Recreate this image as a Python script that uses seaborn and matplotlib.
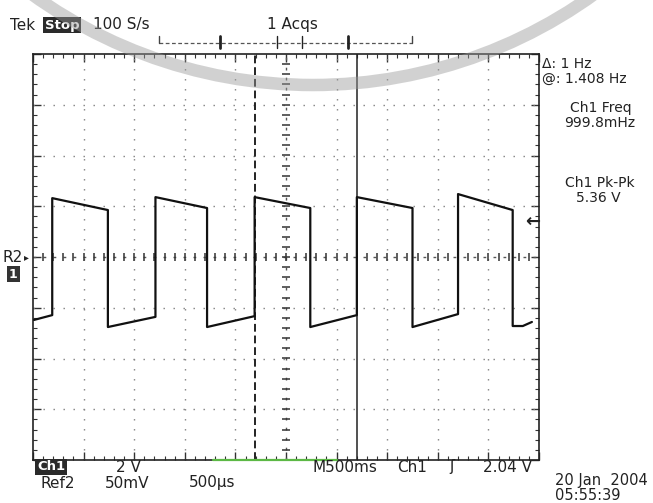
import numpy as np
import matplotlib
matplotlib.use("Agg")
import matplotlib.pyplot as plt
from matplotlib.patches import Arc
from matplotlib.ticker import MultipleLocator
import matplotlib.transforms as mtransforms
import pandas as pd
import seaborn as sns

# Ch1 trace, corners (time from left edge in s, level in V)
t_s = [0.01, 0.19, 0.19, 0.74, 0.74, 1.21, 1.21, 1.72, 1.72, 2.19, 2.19,
       2.74, 2.74, 3.20, 3.20, 3.75, 3.75, 4.20, 4.20, 4.74, 4.74, 4.84, 4.93]
v_ch1 = [-2.48, -2.29, 2.32, 1.85, -2.76, -2.36, 2.36, 1.93, -2.76, -2.33, 2.36,
         1.93, -2.76, -2.29, 2.36, 1.93, -2.76, -2.25, 2.48, 1.85, -2.72, -2.72, -2.56]

# cursors / markers (s)
cursor_dashed = 2.19
cursor_solid = 3.20
record_marks = [1.85, 2.41, 2.66, 3.11]

# readouts
top_labels = ["Tek", "100 S/s", "1 Acqs"]
side_labels = ["Δ: 1 Hz", "@: 1.408 Hz", "Ch1 Freq", "999.8mHz", "Ch1 Pk-Pk", "5.36 V"]
bottom_labels = ["2 V", "Ref2", "50mV", "500µs", "M500ms", "Ch1", "ʃ", "2.04 V"]
date_labels = ["20 Jan  2004", "05:55:39"]

df = pd.DataFrame({"t": t_s, "v": v_ch1})

sns.set_theme(style="white")
plt.rcParams["font.family"] = ["DejaVu Sans"]

W, H = 653, 503
fig = plt.figure(figsize=(W / 100, H / 100), dpi=100)
fig.patch.set_facecolor("white")


def fx(x):
    return x / W


def fy(y):
    return 1 - y / H


ax = fig.add_axes([fx(33), fy(460), 506 / W, 406 / H])
ax.set_facecolor("white")
ax.set_xlim(0, 5)
ax.set_ylim(-8, 8)

# graticule
grid_c = "#808080"
for x in np.arange(0.5, 5.0, 0.5):
    if abs(x - 2.5) > 1e-6:
        ax.axvline(x, color=grid_c, lw=1, dashes=(1, 6.2), zorder=1)
for y in np.arange(-6, 8, 2):
    if y != 0:
        ax.axhline(y, color=grid_c, lw=1, dashes=(1, 6.2), zorder=1)
ax.axhline(0, color="#555555", lw=1, dashes=(2, 5.2), zorder=1)
ax.axvline(2.5, color="#555555", lw=1, dashes=(2, 5.2), zorder=1)
tx = np.arange(0.1, 5.0, 0.1)
ax.plot(tx, np.zeros_like(tx), ls="none", marker="|", ms=6, mew=1.1, color="#333333", zorder=2)
ty = np.arange(-7.6, 8, 0.4)
ax.plot(np.full_like(ty, 2.5), ty, ls="none", marker="_", ms=6, mew=1.1, color="#333333", zorder=2)

for s in ax.spines.values():
    s.set_color("#222222")
    s.set_linewidth(1.2)
ax.xaxis.set_major_locator(MultipleLocator(0.5))
ax.yaxis.set_major_locator(MultipleLocator(2))
ax.xaxis.set_minor_locator(MultipleLocator(0.1))
ax.yaxis.set_minor_locator(MultipleLocator(0.4))
ax.tick_params(which="both", direction="in", top=True, right=True, bottom=True, left=True,
               labelbottom=False, labelleft=False, color="#333333")
ax.tick_params(which="major", length=6, width=1)
ax.tick_params(which="minor", length=3, width=0.8)

# cursors
ax.axvline(cursor_dashed, color="#222222", lw=1.4, dashes=(4, 2), zorder=3)
ax.axvline(cursor_solid, color="#222222", lw=1.1, zorder=3)

# trace
sns.lineplot(data=df, x="t", y="v", sort=False, estimator=None, color="#111111",
             lw=1.6, ax=ax, zorder=4)
ax.set_xlabel("")
ax.set_ylabel("")

# green strip on bottom edge
ax.plot([1.78, 3.00], [-8, -8], color="#5cb845", lw=1.6, clip_on=False, zorder=5)

# trigger level arrow
ax.text(4.94, 1.38, "←", ha="center", va="center", fontsize=13, color="#222222",
        fontweight="bold")

# record view bar above the screen
bt = mtransforms.blended_transform_factory(ax.transData, ax.transAxes)
ybar = (460 - 43) / 406
ax.plot([1.245, 3.745], [ybar, ybar], color="#555555", lw=0.9, dashes=(3, 2),
        transform=bt, clip_on=False)
for xm in [1.245, 3.745]:
    ax.plot([xm, xm], [ybar, ybar + 0.018], color="#444444", lw=1, transform=bt, clip_on=False)
for i, xm in enumerate(record_marks):
    ax.plot([xm, xm], [ybar - 0.012, ybar + 0.018], color="#222222",
            lw=2 if i in (0, 3) else 1, transform=bt, clip_on=False)

# screen readouts
fs = 11
fs2 = 10
tc = "#222222"
fig.text(fx(10), fy(25), top_labels[0], fontsize=fs, color=tc, va="center")
fig.text(fx(45), fy(25), "Stop", fontsize=9.5, color="white", va="center", fontweight="bold",
         bbox=dict(boxstyle="square,pad=0.12", fc="#2a2a2a", ec="none"))
fig.text(fx(93), fy(25), top_labels[1], fontsize=fs, color=tc, va="center")
fig.text(fx(267), fy(25), top_labels[2], fontsize=fs, color=tc, va="center")

fig.text(fx(542), fy(64), side_labels[0], fontsize=fs2, color=tc, va="center")
fig.text(fx(542), fy(79), side_labels[1], fontsize=fs2, color=tc, va="center")
fig.text(fx(601), fy(108), side_labels[2], fontsize=fs2, color=tc, va="center", ha="center")
fig.text(fx(600), fy(123), side_labels[3], fontsize=fs2, color=tc, va="center", ha="center")
fig.text(fx(600), fy(183), side_labels[4], fontsize=fs2, color=tc, va="center", ha="center")
fig.text(fx(598), fy(198), side_labels[5], fontsize=fs2, color=tc, va="center", ha="center")

fig.text(fx(2), fy(257), "R2", fontsize=fs, color=tc, va="center")
fig.text(fx(24), fy(257), "▸", fontsize=7, color=tc, va="center")
fig.text(fx(9), fy(274), "1", fontsize=9, color="white", va="center", fontweight="bold",
         bbox=dict(boxstyle="square,pad=0.15", fc="#333333", ec="none"))

fig.text(fx(37), fy(467), "Ch1", fontsize=9.5, color="white", va="center", fontweight="bold",
         bbox=dict(boxstyle="square,pad=0.12", fc="#2a2a2a", ec="none"))
fig.text(fx(128), fy(467), bottom_labels[0], fontsize=fs, color=tc, va="center", ha="center")
fig.text(fx(40), fy(483), bottom_labels[1], fontsize=fs, color=tc, va="center")
fig.text(fx(127), fy(483), bottom_labels[2], fontsize=fs, color=tc, va="center", ha="center")
fig.text(fx(212), fy(483), bottom_labels[3], fontsize=fs, color=tc, va="center", ha="center")
fig.text(fx(312), fy(467), bottom_labels[4], fontsize=fs, color=tc, va="center")
fig.text(fx(397), fy(467), bottom_labels[5], fontsize=fs, color=tc, va="center")
fig.text(fx(452), fy(466), bottom_labels[6], fontsize=fs, color=tc, va="center", ha="center")
fig.text(fx(483), fy(467), bottom_labels[7], fontsize=fs, color=tc, va="center")
fig.text(fx(555), fy(481), date_labels[0], fontsize=10.5, color=tc, va="center")
fig.text(fx(555), fy(495), date_labels[1], fontsize=10.5, color=tc, va="center")

# faint seal ring across the top
cx, cy, r = 313, -396, 481
fig.add_artist(Arc((fx(cx), fy(cy)), 2 * r / W, 2 * r / H, theta1=190, theta2=350,
                   transform=fig.transFigure, lw=9, color="#9a9a9a", alpha=0.45, zorder=10))

fig.savefig("out.png", dpi=100)
